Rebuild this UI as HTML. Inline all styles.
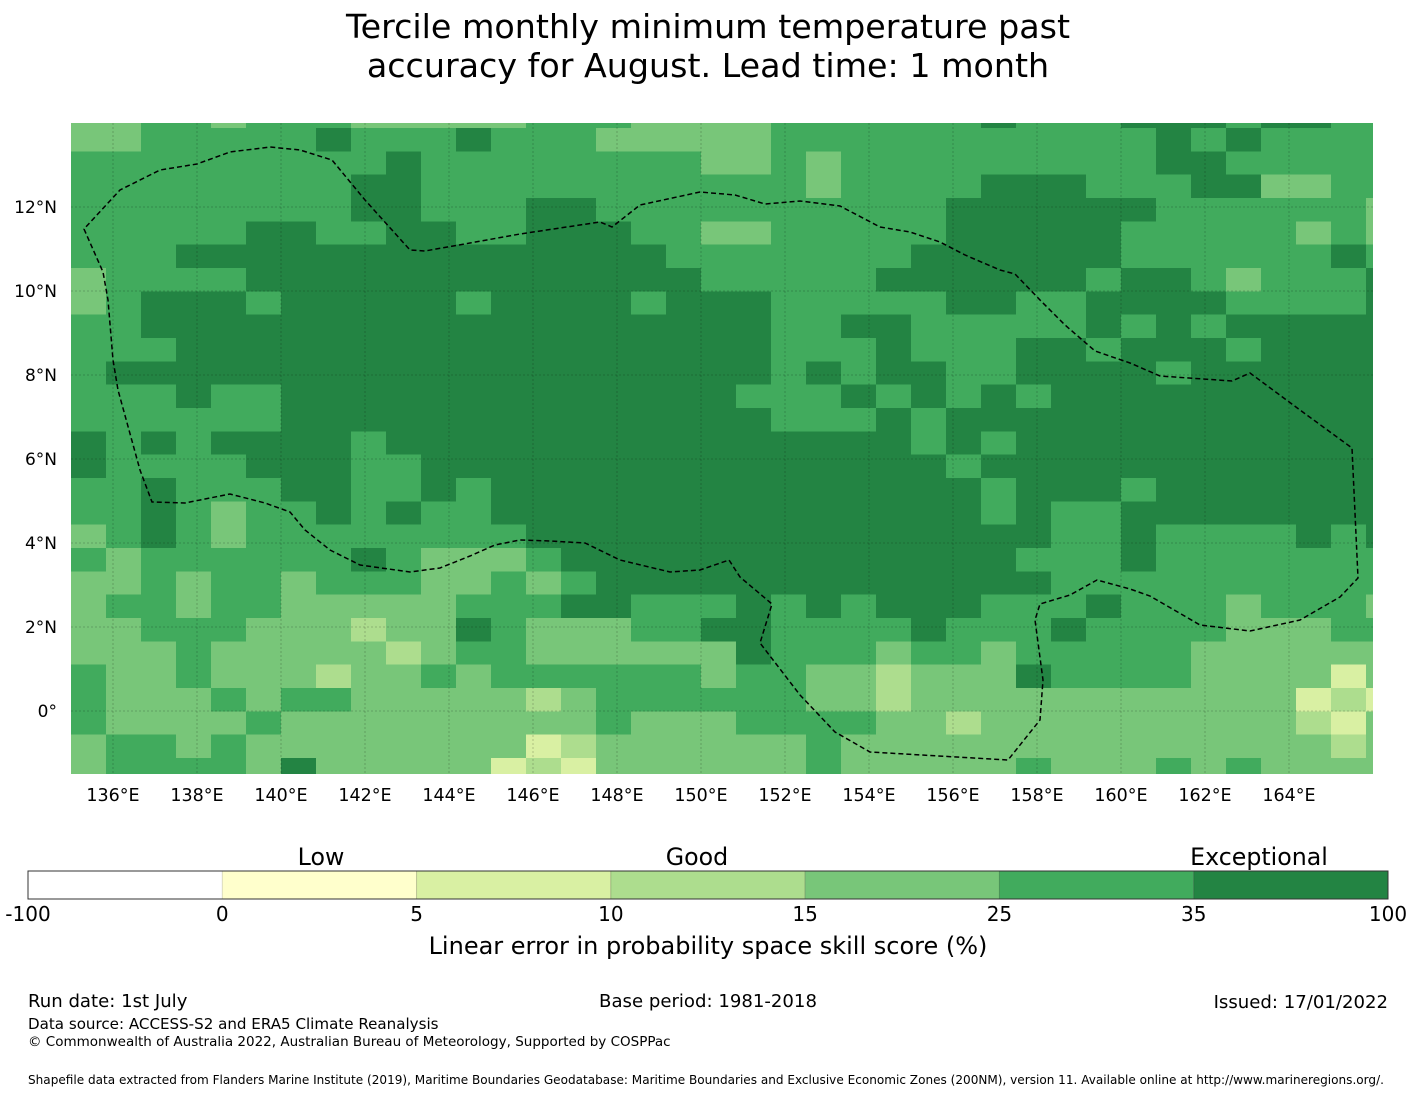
<!DOCTYPE html>
<html><head><meta charset="utf-8"><title>Tercile skill map</title>
<style>
html,body{margin:0;padding:0;background:#fff;}
svg{display:block;font-family:"DejaVu Sans","Liberation Sans",sans-serif;}
</style></head>
<body>
<svg id="chart" width="1416" height="1095" viewBox="0 0 1416 1095" xmlns="http://www.w3.org/2000/svg">
<text x="708" y="38" text-anchor="middle" font-size="33.3" fill="#000">Tercile monthly minimum temperature past</text>
<text x="708" y="77" text-anchor="middle" font-size="33.3" fill="#000">accuracy for August. Lead time: 1 month</text>
<defs><clipPath id="mapclip"><rect x="71" y="123" width="1302" height="651"/></clipPath></defs>
<g id="cells" clip-path="url(#mapclip)" shape-rendering="crispEdges"></g>
<g id="grid" clip-path="url(#mapclip)"></g>
<path id="eez" clip-path="url(#mapclip)" fill="none" stroke="#000" stroke-width="1.5" stroke-dasharray="5,3"
 d="M84,229 L103,272 L108,300 L113,360 L118,390 L140,470 L152,502 L185,503 L210,498 L230,494 L265,503 L290,512 L305,530 L330,550 L360,565 L410,572 L440,568 L470,556 L495,545 L520,540 L550,541 L585,543 L620,560 L670,572 L700,570 L729,560 L740,577 L772,604 L760,643 L800,695 L835,732 L870,752 L1008,760 L1040,720 L1043,680 L1035,620 L1040,604 L1070,595 L1097,580 L1130,589 L1150,596 L1200,625 L1250,631 L1300,620 L1340,597 L1358,578 L1352,448 L1300,410 L1250,373 L1232,381 L1160,376 L1130,363 L1095,351 L1065,325 L1040,300 L1015,274 L1000,270 L965,255 L940,242 L910,232 L880,227 L840,206 L800,201 L765,204 L735,195 L700,192 L640,205 L612,227 L600,222 L520,234 L470,243 L425,251 L410,250 L365,200 L332,160 L300,150 L270,147 L230,152 L197,164 L160,170 L120,190 Z"/>
<g id="xticks"></g>
<g id="yticks"></g>
<g id="colorbar"></g>
<text x="321" y="865" text-anchor="middle" font-size="23.7">Low</text>
<text x="697" y="865" text-anchor="middle" font-size="23.7">Good</text>
<text x="1259" y="865" text-anchor="middle" font-size="23.7">Exceptional</text>
<text x="708" y="954" text-anchor="middle" font-size="24">Linear error in probability space skill score (%)</text>
<text x="28" y="1007" font-size="18.1">Run date: 1st July</text>
<text x="708" y="1007" text-anchor="middle" font-size="18.1">Base period: 1981-2018</text>
<text x="1388" y="1008" text-anchor="end" font-size="18.1">Issued: 17/01/2022</text>
<text x="28" y="1029" font-size="15.1">Data source: ACCESS-S2 and ERA5 Climate Reanalysis</text>
<text x="28" y="1046" font-size="13.5">© Commonwealth of Australia 2022, Australian Bureau of Meteorology, Supported by COSPPac</text>
<text x="28" y="1084" font-size="12.07">Shapefile data extracted from Flanders Marine Institute (2019), Maritime Boundaries Geodatabase: Maritime Boundaries and Exclusive Economic Zones (200NM), version 11. Available online at http://www.marineregions.org/.</text>
</svg>
<script>
// skill category per grid cell (0..6), rows north->south, columns west->east
const skillRows = [
"4455455544444"+"555444455555"+"5655566656655",
"4455555655565"+"554444455555"+"5555556565555",
"5555555556555"+"555554454555"+"5555556655555",
"5555555566555"+"555555554555"+"5666555664455",
"5555555566555"+"665555555555"+"6666665555554",
"5555566556655"+"666554455555"+"6666655555454",
"5556666666666"+"666655555556"+"6666655555565",
"4555566666666"+"666665555566"+"6666566545556",
"4566656666656"+"666566655555"+"6655666655556",
"5566666666666"+"666666655665"+"5555656566666",
"5556666666666"+"666666655565"+"5566566656666",
"5666666666666"+"666666656566"+"5566665666666",
"5556556666666"+"666666555656"+"5656666666666",
"5555556666666"+"666666655565"+"6666666666666",
"6565666656666"+"666666666665"+"6566666666666",
"6555566655666"+"666666666666"+"5666666666666",
"5565556655656"+"666666666666"+"6566656666666",
"5565455656556"+"666666666666"+"6565566666666",
"4565455555555"+"666666666666"+"6665565555656",
"5455555565444"+"566666666666"+"6655565555555",
"4454554555445"+"456666666666"+"6665555555555",
"4554554444455"+"566555656566"+"6555655545554",
"4455544434465"+"444556655556"+"5556555544455",
"4445444443455"+"444444655545"+"5455555444444",
"5445444344545"+"555554554434"+"4465555444424",
"5444545544444"+"345555554434"+"4444444444232",
"5444454444444"+"445444555544"+"3444444444324",
"4554544444444"+"234444445444"+"4444444444434",
"4555546444442"+"324444445444"+"4454445454444"
];
const levelColors = ["#ffffff","#ffffcc","#d9f0a3","#addd8e","#78c679","#41ab5d","#238443"];
const cbBounds = ["-100","0","5","10","15","25","35","100"];
const lonTicks = [136,138,140,142,144,146,148,150,152,154,156,158,160,162,164];
const latTicks = [0,2,4,6,8,10,12];
const gridLon0 = 135.0, gridDLon = 0.8333, gridLatTop = 14.437, gridDLat = 0.5556;

const NS = "http://www.w3.org/2000/svg";
const mapX0 = 71, mapX1 = 1373, mapY0 = 123, mapY1 = 774;
const lonMin = 135.0, lonMax = 166.0, latMax = 14.0, latMin = -1.5;
function xScale(lon){ return mapX0 + (lon - lonMin) / (lonMax - lonMin) * (mapX1 - mapX0); }
function yScale(lat){ return mapY0 + (latMax - lat) / (latMax - latMin) * (mapY1 - mapY0); }

const cellsG = document.getElementById("cells");
skillRows.forEach((row, r) => {
  for (let c = 0; c < row.length; c++) {
    const lv = +row[c];
    const lonA = gridLon0 + c * gridDLon, lonB = lonA + gridDLon;
    const latA = gridLatTop - r * gridDLat, latB = latA - gridDLat;
    const x0 = xScale(lonA), x1 = xScale(lonB), y0 = yScale(latA), y1 = yScale(latB);
    const rect = document.createElementNS(NS, "rect");
    rect.setAttribute("x", x0.toFixed(2));
    rect.setAttribute("y", y0.toFixed(2));
    rect.setAttribute("width", (x1 - x0 + 0.6).toFixed(2));
    rect.setAttribute("height", (y1 - y0 + 0.6).toFixed(2));
    rect.setAttribute("fill", levelColors[lv]);
    
    
    cellsG.appendChild(rect);
  }
});

const gridG = document.getElementById("grid");
const xt = document.getElementById("xticks");
lonTicks.forEach(lon => {
  const x = xScale(lon);
  const ln = document.createElementNS(NS, "line");
  ln.setAttribute("x1", x); ln.setAttribute("x2", x);
  ln.setAttribute("y1", mapY0); ln.setAttribute("y2", mapY1);
  ln.setAttribute("stroke", "rgba(0,0,0,0.25)"); ln.setAttribute("stroke-width", "0.8");
  ln.setAttribute("stroke-dasharray", "2,2");
  
  
  gridG.appendChild(ln);
  const t = document.createElementNS(NS, "text");
  t.setAttribute("x", x); t.setAttribute("y", 801);
  t.setAttribute("text-anchor", "middle"); t.setAttribute("font-size", "17.5");
  t.textContent = lon + "°E";
  
  
  xt.appendChild(t);
});
const yt = document.getElementById("yticks");
latTicks.forEach(lat => {
  const y = yScale(lat);
  const ln = document.createElementNS(NS, "line");
  ln.setAttribute("x1", mapX0); ln.setAttribute("x2", mapX1);
  ln.setAttribute("y1", y); ln.setAttribute("y2", y);
  ln.setAttribute("stroke", "rgba(0,0,0,0.25)"); ln.setAttribute("stroke-width", "0.8");
  ln.setAttribute("stroke-dasharray", "2,2");
  
  
  gridG.appendChild(ln);
  const t = document.createElementNS(NS, "text");
  t.setAttribute("x", 57); t.setAttribute("y", y + 6);
  t.setAttribute("text-anchor", "end"); t.setAttribute("font-size", "17");
  t.textContent = lat === 0 ? "0°" : lat + "°N";
  
  
  yt.appendChild(t);
});

const cb = document.getElementById("colorbar");
const cbX0 = 28, cbX1 = 1388, cbY = 871, cbH = 28;
const nSeg = levelColors.length;
const segW = (cbX1 - cbX0) / nSeg;
levelColors.forEach((col, i) => {
  const r = document.createElementNS(NS, "rect");
  r.setAttribute("x", cbX0 + i * segW); r.setAttribute("y", cbY);
  r.setAttribute("width", segW); r.setAttribute("height", cbH);
  r.setAttribute("fill", col);
  r.setAttribute("stroke", i === 0 ? "none" : "rgba(0,0,0,0.15)");
  
  
  cb.appendChild(r);
});
const frame = document.createElementNS(NS, "rect");
frame.setAttribute("x", cbX0); frame.setAttribute("y", cbY);
frame.setAttribute("width", cbX1 - cbX0); frame.setAttribute("height", cbH);
frame.setAttribute("fill", "none"); frame.setAttribute("stroke", "#333"); frame.setAttribute("stroke-width", "1");


cb.appendChild(frame);
cbBounds.forEach((lab, i) => {
  const t = document.createElementNS(NS, "text");
  t.setAttribute("x", cbX0 + i * segW); t.setAttribute("y", 921);
  t.setAttribute("text-anchor", "middle"); t.setAttribute("font-size", "20");
  t.textContent = lab;
  
  
  cb.appendChild(t);
});
</script>
</body></html>
